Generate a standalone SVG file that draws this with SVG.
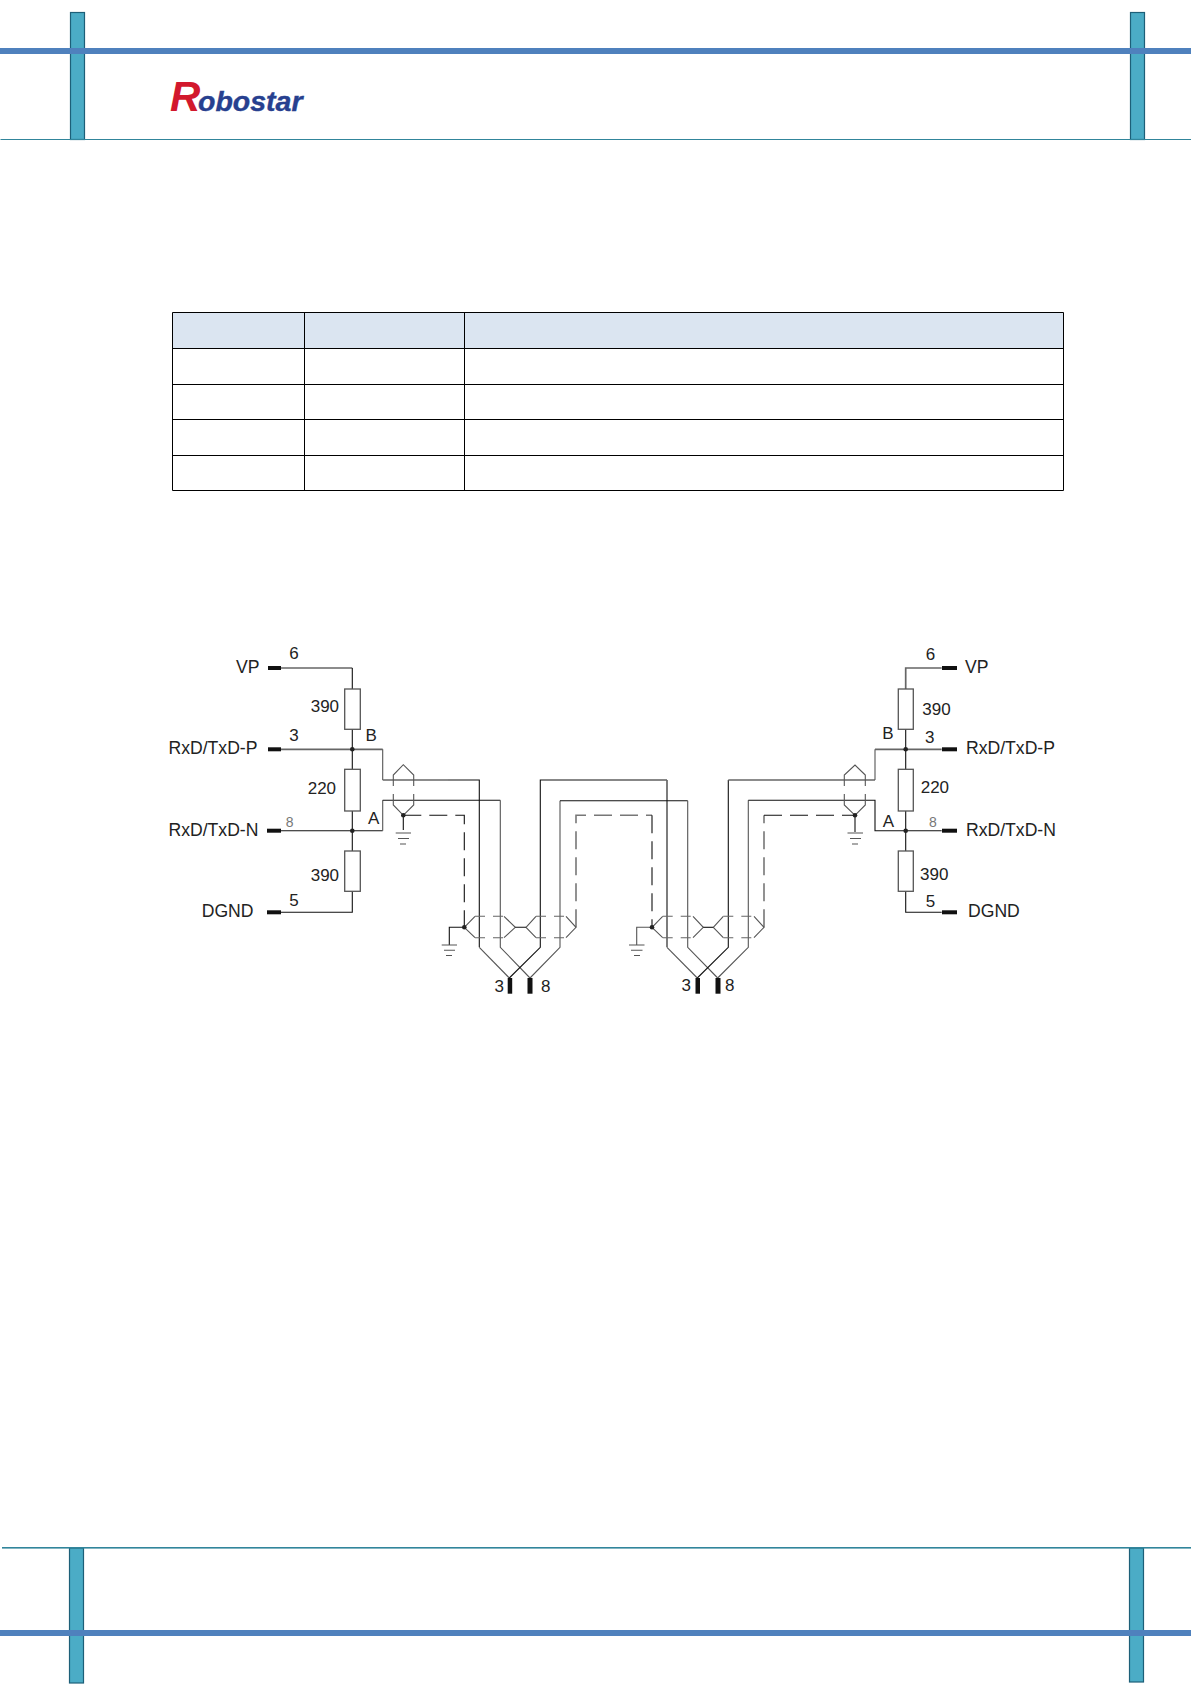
<svg xmlns="http://www.w3.org/2000/svg" width="1191" height="1684" viewBox="0 0 1191 1684">
<style>
text{font-family:"Liberation Sans",Arial,sans-serif;font-size:17px;fill:#222}
.lab{font-size:17.6px}
.small{font-size:14px;fill:#777}
.w{fill:none;stroke:#111;stroke-width:1.1}
.g{fill:none;stroke:#666;stroke-width:1.7}
.m{fill:none;stroke:#555;stroke-width:1.1}
.d{fill:none;stroke:#111;stroke-width:1.1;stroke-dasharray:18 8}
.dg{fill:none;stroke:#777;stroke-width:1.6;stroke-dasharray:18 8}
.s{fill:none;stroke:#666;stroke-width:1.1;stroke-dasharray:10 8}
.r{fill:#fff;stroke:#555;stroke-width:1.3}
.bar{fill:#4bacc6;stroke:#1d5f78;stroke-width:1.2}
.pad{fill:#111}
.dot{fill:#222}
.cell{fill:none;stroke:#000;stroke-width:1}
</style>
<g id="page-frame">
<rect class="bar" x="70.5" y="12.5" width="14" height="127"/>
<rect class="bar" x="1130.5" y="12.5" width="14" height="127"/>
<rect x="0" y="48" width="1191" height="6" fill="#4f81bd"/>
<rect x="0.5" y="139" width="1190.5" height="1" fill="#31859b"/>
<rect class="bar" x="69.5" y="1548" width="14" height="135"/>
<rect class="bar" x="1129.5" y="1548" width="14" height="134"/>
<rect x="2" y="1547" width="1189" height="1.6" fill="#31859b"/>
<rect x="0" y="1630" width="1191" height="6" fill="#4f81bd"/>
</g>
<g id="logo">
<text x="170" y="111" style="font-weight:bold;font-style:italic"><tspan style="font-size:42px;fill:#d2182d">R</tspan><tspan x="198" style="font-size:28.5px;fill:#27408f;stroke:#27408f;stroke-width:0.4">obostar</tspan></text>
</g>
<g id="table">
<rect x="172" y="312" width="892" height="37" fill="#dbe5f1"/>
<path class="cell" d="M172.5 312.5H1063.5V490.5H172.5ZM172.5 348.5H1063.5M172.5 384.5H1063.5M172.5 419.5H1063.5M172.5 455.5H1063.5M304.5 312.5V490.5M464.5 312.5V490.5"/>
</g>
<g id="connectors">
<path class="g" d="M281 668H352.3"/>
<path class="w" d="M352.3 668V689M352.3 729V769M352.3 811V851M352.3 891V912.3H281"/>
<path class="g" d="M281 749.3H382.7"/>
<path class="m" d="M382.7 749.3V780"/>
<path class="g" d="M382.7 780H448"/>
<path class="w" d="M448 780H479.3V947.3"/>
<path class="m" d="M479.3 947.3L509.3 978"/>
<path class="w" d="M281 830.7H382.7"/>
<path class="m" d="M382.7 830.7V800.3"/>
<path class="w" d="M382.7 800.3H500.3"/>
<path class="m" d="M500.3 800.3V947.3L530 978"/>
<path class="w" d="M509.3 978L540.3 947.3V780H667"/>
<path class="g" d="M667 780V947.3"/>
<path class="m" d="M667 947.3L697.3 978"/>
<path class="m" d="M530 978L560 947.3V800.7"/>
<path class="w" d="M560 800.7H687.7"/>
<path class="m" d="M687.7 800.7V947.3L717.7 978"/>
<path class="w" d="M697.3 978L728.3 947.3V780"/>
<path class="g" d="M728.3 780H875"/>
<path class="m" d="M875 780V749.3"/>
<path class="g" d="M875 749.3H941.7"/>
<path class="m" d="M717.7 978L748.3 947.3V800.3"/>
<path class="w" d="M748.3 800.3H875V830.7H941.7"/>
<path class="g" d="M905.7 689V668H941.7"/>
<path class="w" d="M905.7 729V769M905.7 811V851M905.7 891V912.3H941.7"/>
<path class="d" d="M403.3 815.3H464.3V927.3"/>
<path class="dg" d="M576 927.3V815.3H652"/>
<path class="d" d="M652 815.3V927.3"/>
<path class="dg" d="M764 927.3V815.3"/>
<path class="d" d="M764 815.3H855"/>
</g>
<g id="shield-left-top" >
<path class="m" d="M393.3 786V775L403.3 764.7L413.7 775V786M393.3 794V805L403.3 815.3L413.7 805V794"/>
<path class="w" d="M403.3 815.3V830"/>
<circle class="dot" cx="403.3" cy="815.3" r="2.3"/>
</g>
<g id="shield-right-top">
<path class="m" d="M844.3 786V775L855 765L865.3 775V786M844.3 794V805L855 815.3L865.3 805V794"/>
<path class="w" d="M855 815.3V832"/>
<circle class="dot" cx="855" cy="815.3" r="2.3"/>
</g>
<g id="shield-mid-left">
<path class="m" d="M464.3 927.3L475 916.3M464.3 927.3L475 937.7M504 916.3L515.3 927.3L504 937.7M526 927.3L536 916.3M526 927.3L536 937.7M566 916.3L576 927.3L566 937.7"/>
<path class="s" d="M475 916.3H504M475 937.7H504M536 916.3H566M536 937.7H566"/>
<path class="w" d="M515.3 927.3H526M464.3 927.3H449.3V945"/>
<circle class="dot" cx="464.3" cy="927.3" r="2.3"/>
</g>
<g id="shield-mid-right">
<path class="m" d="M652 927.3L662.7 916.3M652 927.3L662.7 937.7M693 916.3L703.3 927.3L693 937.7M713.3 927.3L723.3 916.3M713.3 927.3L723.3 937.7M754 916.3L764 927.3L754 937.7"/>
<path class="s" d="M662.7 916.3H693M662.7 937.7H693M723.3 916.3H754M723.3 937.7H754"/>
<path class="w" d="M703.3 927.3H713.3"/>
<path class="m" d="M652 927.3H636.7V945"/>
<circle class="dot" cx="652" cy="927.3" r="2.3"/>
</g>
<g id="grounds">
<path class="m" d="M395.7 833H411M398 838.5H409M400 844H406"/>
<path class="m" d="M847.5 833H863M850 838.5H861M852 844H858"/>
<path class="m" d="M441.7 945H457M444 950.3H455M446 955.5H452"/>
<path class="m" d="M629 945H644.5M631 950.3H642.5M634 955.5H640"/>
</g>
<g id="resistor-left-1"><rect class="r" x="344.7" y="689" width="15.6" height="40.3"/><text x="310.7" y="712.3">390</text></g>
<g id="resistor-left-2"><rect class="r" x="344.7" y="769.3" width="15.6" height="41.7"/><text x="307.7" y="794.3">220</text></g>
<g id="resistor-left-3"><rect class="r" x="344.7" y="851" width="15.6" height="40.3"/><text x="310.7" y="880.7">390</text></g>
<g id="resistor-right-1"><rect class="r" x="898.3" y="689" width="15" height="40.3"/><text x="922.3" y="715">390</text></g>
<g id="resistor-right-2"><rect class="r" x="898.3" y="769.3" width="15" height="41.7"/><text x="920.7" y="793.3">220</text></g>
<g id="resistor-right-3"><rect class="r" x="898.3" y="851" width="15" height="40.3"/><text x="920" y="880">390</text></g>
<g id="node-b-left"><circle class="dot" cx="352.3" cy="749.3" r="2.3"/><text x="365.5" y="740.7">B</text></g>
<g id="node-a-left"><circle class="dot" cx="352.3" cy="830.7" r="2.3"/><text x="368" y="824">A</text></g>
<g id="node-b-right"><circle class="dot" cx="905.7" cy="749.3" r="2.3"/><text x="882.3" y="739">B</text></g>
<g id="node-a-right"><circle class="dot" cx="905.7" cy="830.7" r="2.3"/><text x="882.7" y="826.7">A</text></g>
<g id="term-vp-left"><rect class="pad" x="268" y="666" width="13" height="4"/><text class="lab" x="236" y="672.7">VP</text><text x="289.3" y="659.3">6</text></g>
<g id="term-p-left"><rect class="pad" x="268" y="747.3" width="13" height="4"/><text class="lab" x="168.5" y="754.3">RxD/TxD-P</text><text x="289.3" y="740.7">3</text></g>
<g id="term-n-left"><rect class="pad" x="267" y="828.7" width="14" height="4"/><text class="lab" x="168.5" y="836">RxD/TxD-N</text><text class="small" x="285.7" y="826.7">8</text></g>
<g id="term-gnd-left"><rect class="pad" x="267" y="910.3" width="14" height="4"/><text class="lab" x="201.7" y="917.3">DGND</text><text x="289.3" y="906">5</text></g>
<g id="term-vp-right"><rect class="pad" x="942" y="666" width="15" height="4"/><text class="lab" x="965" y="673.3">VP</text><text x="925.7" y="660">6</text></g>
<g id="term-p-right"><rect class="pad" x="942" y="747.3" width="15" height="4"/><text class="lab" x="966" y="754.3">RxD/TxD-P</text><text x="925" y="742.7">3</text></g>
<g id="term-n-right"><rect class="pad" x="942" y="828.7" width="15" height="4"/><text class="lab" x="966" y="836">RxD/TxD-N</text><text class="small" x="929" y="826.7">8</text></g>
<g id="term-gnd-right"><rect class="pad" x="942" y="910.3" width="15" height="4"/><text class="lab" x="968" y="917.3">DGND</text><text x="925.7" y="907.3">5</text></g>
<g id="pins-left"><rect class="pad" x="507.7" y="978" width="4.5" height="15.7"/><rect class="pad" x="527.5" y="978" width="5" height="15.7"/><text x="494.5" y="992">3</text><text x="541" y="992">8</text></g>
<g id="pins-right"><rect class="pad" x="695.5" y="978" width="4.5" height="15.7"/><rect class="pad" x="715.5" y="978" width="5" height="15.7"/><text x="681.5" y="991">3</text><text x="725" y="991">8</text></g>
</svg>
